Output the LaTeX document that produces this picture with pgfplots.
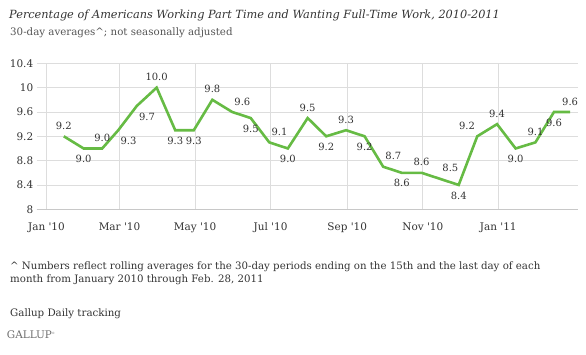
\documentclass[border=0pt]{standalone}
\usepackage{fontspec}
\setmainfont{DejaVu Serif}[Ligatures=TeXOff]
\usepackage{pgfplots}
\pgfplotsset{compat=1.18}
\definecolor{linegreen}{RGB}{102,187,68}
\definecolor{gridgray}{RGB}{221,221,221}
\definecolor{axisgray}{RGB}{200,200,200}
\definecolor{txt}{RGB}{51,51,51}
\definecolor{subtxt}{RGB}{85,85,85}
\definecolor{logogray}{RGB}{110,110,110}

\begin{document}
\begin{tikzpicture}[x=1bp,y=1bp]
\path[use as bounding box] (0,0) rectangle (586,354);
\begin{axis}[
  at={(36.7bp,144.7bp)}, anchor=south west,
  scale only axis, width=541.3bp, height=146bp,
  xmin=-7.9, xmax=429.4, ymin=8, ymax=10.4,
  xtick={0,59,120,181,243,304,365},
  xticklabels={Jan '10,Mar '10,May '10,Jul '10,Sep '10,Nov '10,Jan '11},
  ytick={8,8.4,8.8,9.2,9.6,10,10.4},
  yticklabels={8,8.4,8.8,9.2,9.6,10,10.4},
  grid=major,
  grid style={draw=gridgray, line width=0.8bp},
  axis x line*=bottom, axis y line*=left,
  x axis line style={draw=axisgray, line width=1.6bp, -},
  y axis line style={draw=none},
  tick style={draw=none},
  ticklabel style={font=\fontsize{10.5}{12}\selectfont, text=txt},
  xticklabel style={yshift=-10bp},
  clip=false,
  /pgf/number format/assume math mode=true,
]
\addplot[color=linegreen, line width=2.6bp, line join=miter, no marks,
  point meta=explicit,
  visualization depends on={value \thisrow{a} \as \myanchor},
  nodes near coords={\pgfmathprintnumber[fixed,fixed zerofill,precision=1,assume math mode=true]{\pgfplotspointmeta}},
  nodes near coords style={anchor=\myanchor, font=\fontsize{10}{12}\selectfont, text=txt, inner xsep=1bp, inner ysep=5.5bp},
] table[x=x, y=y, meta=y] {
x   y    a
14  9.2  south
30  9.0  north
45  9.0  south
58  9.3  {north west}
73  9.7  {north west}
89  10.0 south
104 9.3  north
119 9.3  north
134 9.8  south
150 9.6  {south west}
165 9.5  north
180 9.1  {south west}
195 9.0  north
211 9.5  south
226 9.2  north
242 9.3  south
257 9.2  north
272 8.7  {south west}
287 8.6  north
303 8.6  south
318 8.5  {south west}
333 8.4  north
348 9.2  {south east}
364 9.4  south
379 9.0  north
395 9.1  south
410 9.6  north
423 9.6  south
};
\end{axis}
\node[anchor=base west, inner sep=0, font=\fontsize{11.35}{13}\selectfont\itshape, text=txt] at (9,335.7) {Percentage of Americans Working Part Time and Wanting Full-Time Work, 2010-2011};
\node[anchor=base west, inner sep=0, font=\fontsize{10.3}{12}\selectfont, text=subtxt] at (10,318.5) {30-day averages\textasciicircum; not seasonally adjusted};
\node[anchor=base west, inner sep=0, font=\fontsize{10.25}{12}\selectfont, text=txt] at (10,84.3) {\textasciicircum{} Numbers reflect rolling averages for the 30-day periods ending on the 15th and the last day of each};
\node[anchor=base west, inner sep=0, font=\fontsize{10.25}{12}\selectfont, text=txt] at (10,71.3) {month from January 2010 through Feb. 28, 2011};
\node[anchor=base west, inner sep=0, font=\fontsize{10.3}{12}\selectfont, text=txt] at (10,37.3) {Gallup Daily tracking};
\node[anchor=base west, inner sep=0, font=\fontsize{10.5}{12}\selectfont, text=logogray] at (6.7,15.7) {GALLUP\raisebox{4bp}{\fontsize{3}{3}\selectfont ®}};
\end{tikzpicture}
\end{document}
